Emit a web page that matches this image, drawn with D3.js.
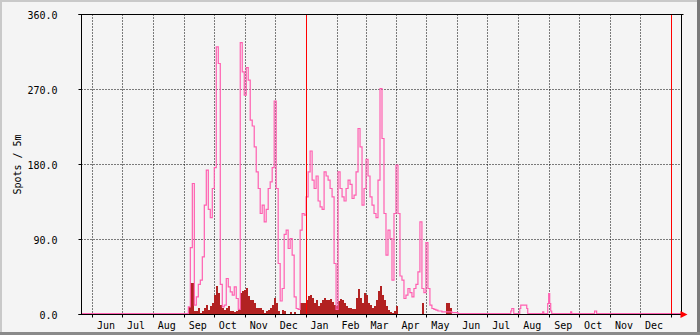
<!DOCTYPE html>
<html>
<head>
<meta charset="utf-8">
<script src="https://cdn.jsdelivr.net/npm/d3@7"></script>
<style>
body { margin: 0; background: #f4f4f4; }
text { font-family: "DejaVu Sans Mono", monospace; font-size: 10px; fill: #000; }
</style>
</head>
<body>
<div id="chart"></div>
<script>
// spots per 5 minutes, 2-day bins starting on seasonStart
var seasonStart = "2023-09-01";
var stepDays = 2;
var spotsMax = [0, 0, 8, 79, 156, 10, 20, 35, 40, 68,
  130, 172, 125, 115, 150, 175, 320, 300, 35, 8,
  10, 42, 32, 26, 22, 32, 18, 5, 325, 290,
  262, 295, 280, 232, 225, 200, 170, 150, 120, 130,
  110, 125, 150, 158, 175, 255, 150, 60, 15, 30,
  95, 100, 78, 90, 70, 20, 6, 5, 100, 120,
  118, 140, 170, 195, 160, 150, 165, 135, 128, 125,
  170, 165, 160, 150, 140, 60, 5, 170, 150, 140,
  135, 150, 160, 155, 138, 142, 170, 222, 200, 130,
  150, 185, 165, 140, 130, 120, 115, 160, 270, 210,
  120, 70, 100, 90, 40, 120, 178, 120, 45, 40,
  18, 22, 30, 25, 20, 30, 35, 50, 110, 30,
  25, 85, 30, 10, 6, 5, 4, 3, 3, 2,
  2, 2, 2, 2, 1, 1, 1];
var spotsAvg = [0, 0, 9, 38, 38, 4, 4, 8, 2, 4,
  8, 12, 6, 10, 14, 24, 34, 26, 12, 8,
  6, 8, 10, 4, 4, 3, 4, 6, 26, 28,
  30, 32, 22, 18, 18, 14, 8, 8, 8, 6,
  2, 4, 6, 8, 12, 20, 14, 4, 0, 6,
  4, 0, 0, 3, 0, 3, 0, 0, 14, 14,
  14, 18, 22, 24, 20, 14, 18, 10, 14, 18,
  20, 18, 18, 19, 15, 12, 10, 16, 19, 17,
  14, 10, 8, 8, 7, 7, 20, 31, 20, 14,
  26, 24, 14, 11, 8, 10, 17, 28, 34, 24,
  18, 10, 6, 3, 2, 4, 10, 0, 0, 0,
  0, 0, 0, 0, 0, 0, 0, 0, 0, 14,
  0, 0, 0, 0, 0, 0, 0, 0, 0, 0,
  0, 14, 14, 8, 0, 0, 0];

// scattered summer activity after the season
var lateDates = ["2024-07-24", "2024-07-25", "2024-07-27", "2024-08-02", "2024-08-03", "2024-08-09",
  "2024-08-10", "2024-08-25", "2024-08-26", "2024-08-30", "2024-08-31", "2024-09-01",
  "2024-09-02", "2024-09-03", "2024-09-22", "2024-09-23", "2024-10-16", "2024-10-18"];
var lateSpots = [3, 6, 0, 6, 10, 6, 0, 2, 0, 12, 24, 12, 3, 0, 2, 0, 3, 0];

var yearMarks = ["2024-01-01", "2025-01-01"];
var yTicks = [0, 90, 180, 270, 360];
var monthNames = ["Jan", "Feb", "Mar", "Apr", "May", "Jun", "Jul", "Aug", "Sep", "Oct", "Nov", "Dec"];
var yTitle = "Spots / 5m";

var width = 700, height = 335;
var plot = {left: 81.5, right: 681.5, top: 14.5, bottom: 314.5};

var parse = d3.utcParse("%Y-%m-%d");
// calibrated so Jun 1 2023 / Jan 1 2025 land on their grid columns
var x = d3.scaleUtc()
  .domain([parse("2023-06-01"), parse("2025-01-01")])
  .range([92.5, 671.5]);
var xStart = x.invert(plot.left - 0.5), xEnd = x.invert(plot.right - 0.5);
var y = d3.scaleLinear().domain([0, 360]).range([plot.bottom, plot.top]);

var svg = d3.select("#chart").append("svg")
  .attr("width", width)
  .attr("height", height);

// background and shaded frame
svg.append("rect").attr("width", width).attr("height", height).attr("fill", "#f4f4f4");
svg.append("rect").attr("x", 0).attr("y", 0).attr("width", width).attr("height", 2).attr("fill", "#c9c9c9");
svg.append("rect").attr("x", 0).attr("y", 0).attr("width", 2).attr("height", height).attr("fill", "#c9c9c9");
svg.append("rect").attr("x", width - 3).attr("y", 0).attr("width", 3).attr("height", height).attr("fill", "#7a7a7a");
svg.append("rect").attr("x", 0).attr("y", height - 3).attr("width", width).attr("height", 3).attr("fill", "#8a8a8a");

// dotted grid (under the data)
var months = d3.utcMonth.range(d3.utcMonth.ceil(xStart), xEnd);
svg.append("g").selectAll("line")
  .data(months)
  .enter()
  .append("line")
  .attr("x1", function(d) { return Math.floor(x(d)) + 0.5; })
  .attr("x2", function(d) { return Math.floor(x(d)) + 0.5; })
  .attr("y1", plot.top)
  .attr("y2", plot.bottom)
  .attr("stroke", "#000")
  .attr("stroke-dasharray", "1,2");

svg.append("g").selectAll("line")
  .data(yTicks.slice(1, -1))
  .enter()
  .append("line")
  .attr("x1", plot.left)
  .attr("x2", plot.right)
  .attr("y1", function(d) { return y(d); })
  .attr("y2", function(d) { return y(d); })
  .attr("stroke", "#000")
  .attr("stroke-dasharray", "1,2");

var t0 = parse(seasonStart);
var season = spotsMax.map(function(v, i) {
  return {date: d3.utcDay.offset(t0, i * stepDays), max: v, avg: spotsAvg[i]};
});
var seasonEnd = d3.utcDay.offset(t0, spotsMax.length * stepDays);

var linePts = [{date: xStart, v: 0}]
  .concat(season.map(function(d) { return {date: d.date, v: d.max}; }))
  .concat([{date: seasonEnd, v: 0}])
  .concat(lateDates.map(function(d, i) { return {date: parse(d), v: lateSpots[i]}; }))
  .concat([{date: xEnd, v: 0}]);
var areaPts = season.map(function(d) { return {date: d.date, v: d.avg}; })
  .concat([{date: seasonEnd, v: 0}]);

var area = d3.area()
  .curve(d3.curveStepAfter)
  .x(function(d) { return x(d.date); })
  .y0(y(0))
  .y1(function(d) { return y(d.v); });

var line = d3.line()
  .curve(d3.curveStepAfter)
  .x(function(d) { return x(d.date); })
  .y(function(d) { return y(d.v); });

svg.append("path")
  .datum(areaPts)
  .attr("fill", "#b22222")
  .attr("shape-rendering", "crispEdges")
  .attr("d", area);

svg.append("path")
  .datum(linePts)
  .attr("fill", "none")
  .attr("stroke", "#ff5fb0")
  .attr("stroke-width", 1.2)
  .attr("transform", "translate(0,-1)")
  .attr("d", line);

// year marks
svg.append("g").selectAll("line")
  .data(yearMarks)
  .enter()
  .append("line")
  .attr("x1", function(d) { return Math.floor(x(parse(d))) + 0.5; })
  .attr("x2", function(d) { return Math.floor(x(parse(d))) + 0.5; })
  .attr("y1", plot.top)
  .attr("y2", plot.bottom)
  .attr("stroke", "#ff0000");

// month ticks below the axis
svg.append("g").selectAll("line")
  .data(months)
  .enter()
  .append("line")
  .attr("x1", function(d) { return Math.floor(x(d)) + 0.5; })
  .attr("x2", function(d) { return Math.floor(x(d)) + 0.5; })
  .attr("y1", plot.bottom)
  .attr("y2", plot.bottom + 3)
  .attr("stroke", "#000");

// frame: axes, top and right edge, y ticks
var frame = svg.append("g").attr("stroke", "#000").attr("fill", "none");
frame.append("line").attr("x1", plot.left - 3).attr("x2", plot.right + 2).attr("y1", plot.top).attr("y2", plot.top);
frame.append("line").attr("x1", plot.right).attr("x2", plot.right).attr("y1", plot.top).attr("y2", plot.bottom);
frame.append("line").attr("x1", plot.left).attr("x2", plot.left).attr("y1", plot.top).attr("y2", plot.bottom);
frame.append("line").attr("x1", plot.left - 3).attr("x2", plot.right).attr("y1", plot.bottom).attr("y2", plot.bottom);
frame.selectAll(".ytick")
  .data(yTicks)
  .enter()
  .append("line")
  .attr("class", "ytick")
  .attr("x1", plot.left - 3)
  .attr("x2", plot.left)
  .attr("y1", function(d) { return y(d); })
  .attr("y2", function(d) { return y(d); });

// x axis arrow
svg.append("path")
  .attr("d", d3.line()([[plot.right - 1, plot.bottom - 3.5], [plot.right + 6, plot.bottom], [plot.right - 1, plot.bottom + 3.5]]))
  .attr("fill", "#ff0000");

// labels
svg.append("g").selectAll("text")
  .data(yTicks)
  .enter()
  .append("text")
  .attr("x", 57.5)
  .attr("y", function(d) { return y(d) + 4; })
  .attr("text-anchor", "end")
  .text(function(d) { return d3.format(".1f")(d); });

svg.append("g").selectAll("text")
  .data(d3.utcMonth.range(d3.utcMonth.ceil(xStart), d3.utcMonth.floor(xEnd)))
  .enter()
  .append("text")
  .attr("x", function(d) { return x(d3.utcHour.offset(d, 13 * 24 + 12)); })
  .attr("y", 329)
  .attr("text-anchor", "middle")
  .text(function(d) { return monthNames[d.getUTCMonth()]; });

svg.append("text")
  .attr("transform", "translate(21," + ((plot.top + plot.bottom) / 2) + ") rotate(-90)")
  .attr("text-anchor", "middle")
  .text(yTitle);
</script>
</body>
</html>
